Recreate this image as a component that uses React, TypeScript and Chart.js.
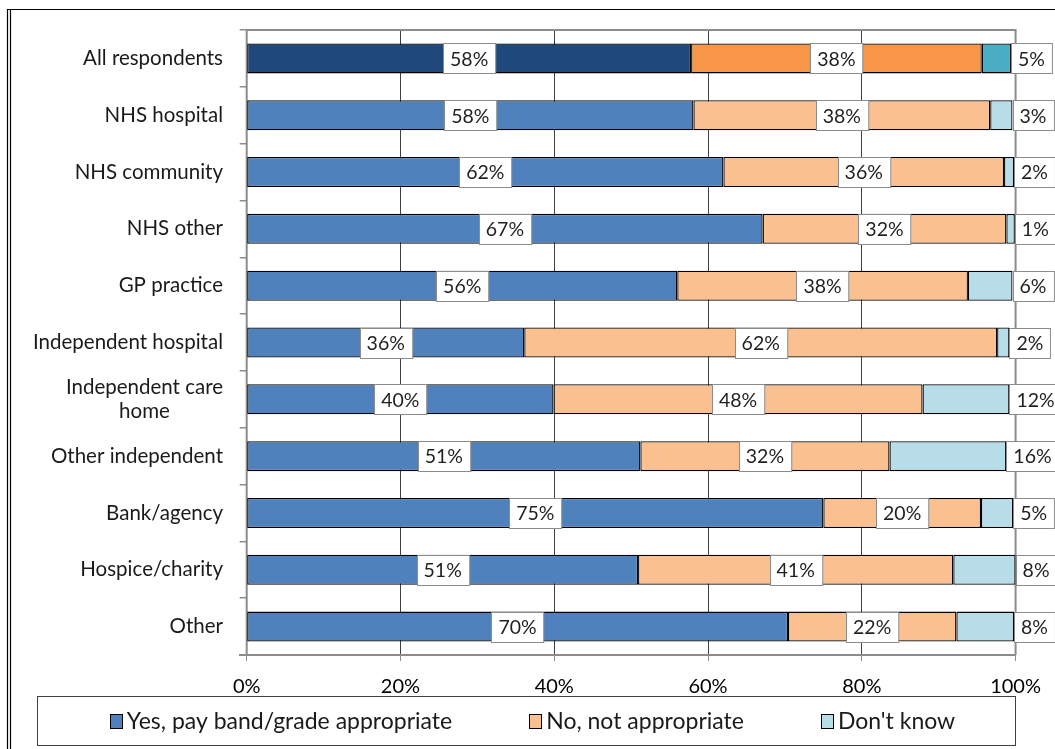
import React, { useEffect, useRef } from 'react';
import { Chart, registerables } from 'chart.js';

Chart.register(...registerables);

const categories: (string | string[])[] = [
  'All respondents',
  'NHS hospital',
  'NHS community',
  'NHS other',
  'GP practice',
  'Independent hospital',
  ['Independent care', 'home'],
  'Other independent',
  'Bank/agency',
  'Hospice/charity',
  'Other',
];
const seriesNames = ['Yes, pay band/grade appropriate', 'No, not appropriate', "Don't know"];
const yesValues = [57.8, 58.1, 62.0, 67.1, 56.0, 36.1, 39.9, 51.2, 75.0, 50.9, 70.4];
const noValues = [37.8, 38.6, 36.5, 31.7, 37.8, 61.5, 48.0, 32.4, 20.5, 41.0, 21.9];
const dkValues = [3.8, 2.9, 1.3, 1.1, 5.8, 1.6, 11.3, 15.2, 4.2, 8.1, 7.5];
const yesLabels = ['58%', '58%', '62%', '67%', '56%', '36%', '40%', '51%', '75%', '51%', '70%'];
const noLabels = ['38%', '38%', '36%', '32%', '38%', '62%', '48%', '32%', '20%', '41%', '22%'];
const dkLabels = ['5%', '3%', '2%', '1%', '6%', '2%', '12%', '16%', '5%', '8%', '8%'];
const xTicks = [0, 20, 40, 60, 80, 100];

const darkColors = ['#1F497D', '#F79646', '#4BACC6'];
const lightColors = ['#4F81BD', '#FAC090', '#B7DEE8'];
const FONT = 'Lato, "Open Sans", sans-serif';

export default function App() {
  const ref = useRef<HTMLCanvasElement | null>(null);

  useEffect(() => {
    const canvas = ref.current;
    if (!canvas) return;

    const valueSets = [yesValues, noValues, dkValues];
    const labelSets = [yesLabels, noLabels, dkLabels];

    const framePlugin = {
      id: 'frame',
      beforeDraw(chart: any) {
        const c = chart.ctx;
        c.save();
        c.fillStyle = '#fff';
        c.fillRect(0, 0, chart.width, chart.height);
        c.strokeStyle = '#000';
        c.lineWidth = 1.2;
        c.beginPath();
        c.moveTo(7, 9.5);
        c.lineTo(chart.width, 9.5);
        c.moveTo(7.5, 9);
        c.lineTo(7.5, chart.height);
        c.moveTo(10.5, 10);
        c.lineTo(10.5, chart.height);
        c.stroke();
        c.restore();
      },
      beforeDatasetsDraw(chart: any) {
        const c = chart.ctx;
        const a = chart.chartArea;
        c.save();
        c.strokeStyle = '#8c8c8c';
        c.lineWidth = 2;
        c.beginPath();
        c.moveTo(a.left, a.bottom);
        c.lineTo(a.left, a.top);
        c.lineTo(a.right, a.top);
        c.lineTo(a.right, a.bottom);
        c.moveTo(239, a.bottom);
        c.lineTo(a.right, a.bottom);
        c.stroke();
        c.restore();
      },
    };

    const labelPlugin = {
      id: 'barLabels',
      afterDatasetsDraw(chart: any) {
        const c = chart.ctx;
        c.save();
        c.font = `19.5px ${FONT}`;
        c.textBaseline = 'middle';
        c.textAlign = 'center';
        for (let d = 0; d < 3; d++) {
          const meta = chart.getDatasetMeta(d);
          meta.data.forEach((bar: any, i: number) => {
            const text = labelSets[d][i];
            const tw = c.measureText(text).width;
            const bw = tw + 14;
            const bh = bar.height;
            const cx = d < 2 ? (bar.x + bar.base) / 2 : Math.max(bar.x, bar.base) + bw / 2;
            const x0 = Math.round(cx - bw / 2) + 0.5;
            const y0 = Math.round(bar.y - bh / 2) + 0.5;
            c.fillStyle = '#fff';
            c.fillRect(x0, y0, bw, bh);
            c.strokeStyle = '#8c8c8c';
            c.lineWidth = 1;
            c.strokeRect(x0, y0, bw, bh);
            c.fillStyle = '#1f1f1f';
            c.fillText(text, cx, bar.y + 1);
          });
        }
        c.restore();
      },
    };

    const yLabelPlugin = {
      id: 'yLabels',
      afterDraw(chart: any) {
        const c = chart.ctx;
        const ys = chart.scales.y;
        c.save();
        c.font = `20.5px ${FONT}`;
        c.fillStyle = '#1a1a1a';
        c.textAlign = 'center';
        c.textBaseline = 'middle';
        const right = 223;
        const lh = 24;
        categories.forEach((lab, i) => {
          const lines = Array.isArray(lab) ? lab : [lab];
          const widest = Math.max(...lines.map((l) => c.measureText(l).width));
          const cx = right - widest / 2;
          const cy = ys.getPixelForValue(i);
          lines.forEach((l, k) => {
            c.fillText(l, cx, cy + (k - (lines.length - 1) / 2) * lh);
          });
        });
        c.restore();
      },
    };

    const legendPlugin = {
      id: 'customLegend',
      afterDraw(chart: any) {
        const c = chart.ctx;
        c.save();
        const bx = 37.5, by = 696.5, bw = 978, bh = 49;
        c.strokeStyle = '#404040';
        c.lineWidth = 1;
        c.strokeRect(bx, by, bw, bh);
        c.font = `23px ${FONT}`;
        c.textBaseline = 'middle';
        c.textAlign = 'left';
        const sq = 12, sqGap = 5, itemGap = 77;
        const widths = seriesNames.map((n) => sq + sqGap + c.measureText(n).width);
        const total = widths.reduce((s, w) => s + w, 0) + itemGap * (seriesNames.length - 1);
        let x = bx + bw / 2 - total / 2 + 6;
        const cy = by + bh / 2;
        seriesNames.forEach((n, i) => {
          c.fillStyle = lightColors[i];
          c.fillRect(Math.round(x) + 0.5, Math.round(cy - 7) + 0.5, sq, 14);
          c.strokeStyle = '#000';
          c.lineWidth = 1;
          c.strokeRect(Math.round(x) + 0.5, Math.round(cy - 7) + 0.5, sq, 14);
          c.fillStyle = '#1a1a1a';
          c.fillText(n, x + sq + sqGap, cy + 1);
          x += widths[i] + itemGap;
        });
        c.restore();
      },
    };

    const datasets = seriesNames.map((name, d) => ({
      label: name,
      data: valueSets[d],
      backgroundColor: (ctx: any) => (ctx.dataIndex === 0 ? darkColors[d] : lightColors[d]),
      borderColor: '#000',
      borderWidth: 1.3,
      borderSkipped: false,
      barPercentage: 0.528,
      categoryPercentage: 1,
    }));

    const chart = new Chart(canvas, {
      type: 'bar',
      data: {
        labels: categories.map((c) => (Array.isArray(c) ? c.join(' ') : c)),
        datasets,
      },
      options: {
        indexAxis: 'y',
        responsive: false,
        animation: false,
        layout: { padding: { top: 30, right: 38.3, left: 0, bottom: 0 } },
        plugins: {
          legend: { display: false },
          tooltip: { enabled: false },
          title: { display: false },
        },
        scales: {
          x: {
            type: 'linear',
            stacked: true,
            min: 0,
            max: 100,
            afterBuildTicks: (scale: any) => {
              scale.ticks = xTicks.map((v) => ({ value: v }));
            },
            afterFit: (scale: any) => {
              scale.height = 94;
            },
            ticks: {
              callback: (v: any) => `${v}%`,
              font: { family: FONT, size: 20 },
              color: '#000',
              padding: 14,
              maxRotation: 0,
            },
            grid: {
              color: (ctx: any) =>
                ctx.tick && (ctx.tick.value === 0 || ctx.tick.value === 100) ? 'rgba(0,0,0,0)' : '#404040',
              lineWidth: 1,
              tickLength: 6,
              tickColor: '#8c8c8c',
              drawTicks: true,
            },
            border: { display: false },
          },
          y: {
            type: 'category',
            stacked: true,
            afterFit: (scale: any) => {
              scale.width = 246.7;
            },
            ticks: { display: false },
            grid: {
              drawOnChartArea: false,
              drawTicks: true,
              offset: true,
              tickLength: 7,
              tickColor: '#8c8c8c',
              color: '#8c8c8c',
              lineWidth: 1.5,
            },
            border: { display: false },
          },
        },
      },
      plugins: [framePlugin, labelPlugin, yLabelPlugin, legendPlugin],
    } as any);

    return () => chart.destroy();
  }, []);

  return (
    <div style={{ position: 'fixed', left: 0, top: 0, width: 1055, height: 749, background: '#fff' }}>
      <canvas ref={ref} width={1055} height={749} style={{ display: 'block' }} />
    </div>
  );
}
